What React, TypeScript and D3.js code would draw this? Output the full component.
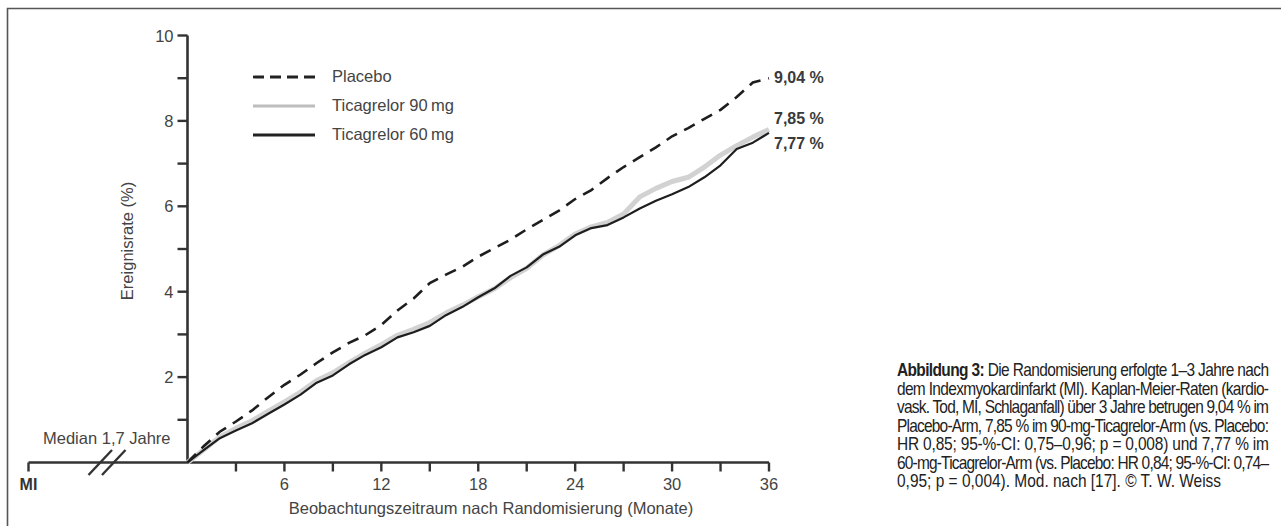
import * as d3 from 'd3';
import React, { useRef, useEffect } from 'react';

// Kaplan-Meier event rates (%), one value per month
const months = [0, 1, 2, 3, 4, 5, 6, 7, 8, 9, 10, 11, 12, 13, 14, 15, 16, 17, 18,
  19, 20, 21, 22, 23, 24, 25, 26, 27, 28, 29, 30, 31, 32, 33, 34, 35, 36];
const placebo = [0, 0.38, 0.72, 0.96, 1.22, 1.53, 1.82, 2.06, 2.33, 2.58, 2.80, 2.98, 3.22,
  3.56, 3.84, 4.20, 4.40, 4.58, 4.82, 5.02, 5.22, 5.46, 5.68, 5.90, 6.17, 6.38, 6.66,
  6.92, 7.15, 7.38, 7.64, 7.83, 8.05, 8.26, 8.56, 8.90, 9.00];
const tica90 = [0, 0.30, 0.60, 0.80, 0.98, 1.20, 1.42, 1.65, 1.92, 2.10, 2.34, 2.56, 2.76,
  2.98, 3.12, 3.28, 3.50, 3.68, 3.88, 4.07, 4.33, 4.55, 4.86, 5.08, 5.35, 5.52, 5.62,
  5.82, 6.22, 6.42, 6.58, 6.68, 6.92, 7.20, 7.42, 7.62, 7.80];
const tica60 = [0, 0.29, 0.57, 0.75, 0.92, 1.14, 1.36, 1.59, 1.87, 2.04, 2.30, 2.52, 2.70,
  2.93, 3.05, 3.20, 3.45, 3.64, 3.87, 4.08, 4.37, 4.57, 4.87, 5.05, 5.32, 5.49, 5.56,
  5.74, 5.95, 6.13, 6.28, 6.45, 6.68, 6.96, 7.34, 7.49, 7.72];

const yTicks = [0, 1, 2, 3, 4, 5, 6, 7, 8, 9, 10];
const yLabels = [2, 4, 6, 8, 10];
const xTicks = [3, 6, 9, 12, 15, 18, 21, 24, 27, 30, 33, 36];
const xLabels = [6, 12, 18, 24, 30, 36];

const seriesNames = ["Placebo", "Ticagrelor 90\u2009mg", "Ticagrelor 60\u2009mg"];
const endLabels = ["9,04 %", "7,85 %", "7,77 %"];
const endLabelValues = [9.04, 7.85, 7.77];

const captionBold = "Abbildung 3:";
const captionLines = [
  " Die Randomisierung erfolgte 1–3 Jahre nach",
  "dem Indexmyokardinfarkt (MI). Kaplan-Meier-Raten (kardio-",
  "vask. Tod, MI, Schlaganfall) über 3 Jahre betrugen 9,04 % im",
  "Placebo-Arm, 7,85 % im 90-mg-Ticagrelor-Arm (vs. Placebo:",
  "HR 0,85; 95-%-CI: 0,75–0,96; p = 0,008) und 7,77 % im",
  "60-mg-Ticagrelor-Arm (vs. Placebo: HR 0,84; 95-%-CI: 0,74–",
  "0,95; p = 0,004). Mod. nach [17]. © T. W. Weiss",
];

function KMChart(): any {
  const ref = useRef(null);
  const width = 1281;
  const height = 526;
  const font = "'Liberation Sans', Arial, sans-serif";
  const textColor = "#444";
  const axisColor = "#333";

  useEffect(() => {
    const svg = d3.select(ref.current);
    svg.selectAll("*").remove();

    const xScale = d3.scaleLinear().domain([0, 36]).range([187.5, 769]);
    const yScale = d3.scaleLinear().domain([0, 10]).range([462.5, 35.5]);
    const miX = 28.5;

    // frame (cut off at right and bottom)
    svg.append("path")
      .attr("d", "M7.5," + height + " V8.5 H" + width)
      .attr("fill", "none")
      .attr("stroke", "#555")
      .attr("stroke-width", 1.6);

    const g = svg.append("g");

    // x axis with break from MI
    g.append("line")
      .attr("x1", miX).attr("x2", xScale(36))
      .attr("y1", yScale(0)).attr("y2", yScale(0))
      .attr("stroke", axisColor).attr("stroke-width", 2.6);
    g.append("line")
      .attr("x1", miX).attr("x2", miX)
      .attr("y1", yScale(0)).attr("y2", yScale(0) + 9)
      .attr("stroke", axisColor).attr("stroke-width", 2.4);
    g.selectAll(".xtick")
      .data(xTicks)
      .enter()
      .append("line")
      .attr("x1", (d: number) => xScale(d)).attr("x2", (d: number) => xScale(d))
      .attr("y1", yScale(0)).attr("y2", yScale(0) + 9)
      .attr("stroke", axisColor).attr("stroke-width", 2.4);
    g.selectAll(".xlabel")
      .data(xLabels)
      .enter()
      .append("text")
      .attr("x", (d: number) => xScale(d))
      .attr("y", yScale(0) + 27)
      .attr("text-anchor", "middle")
      .attr("font-family", font).attr("font-size", 16.5)
      .attr("fill", textColor)
      .text((d: number) => d);
    g.append("text")
      .attr("x", miX).attr("y", yScale(0) + 27)
      .attr("text-anchor", "middle")
      .attr("font-family", font).attr("font-size", 16).attr("font-weight", "bold")
      .attr("fill", "#333")
      .text("MI");
    [0, 13.5].forEach((dx) => {
      g.append("line")
        .attr("x1", 88.5 + dx).attr("y1", 475)
        .attr("x2", 112 + dx).attr("y2", 450)
        .attr("stroke", axisColor).attr("stroke-width", 2.4);
    });
    g.append("text")
      .attr("x", 43).attr("y", 444)
      .attr("font-family", font).attr("font-size", 16.5)
      .attr("fill", textColor)
      .text("Median 1,7 Jahre");
    g.append("text")
      .attr("x", 491).attr("y", 514)
      .attr("text-anchor", "middle")
      .attr("font-family", font).attr("font-size", 16.5)
      .attr("fill", textColor)
      .text("Beobachtungszeitraum nach Randomisierung (Monate)");

    // y axis
    g.append("line")
      .attr("x1", xScale(0)).attr("x2", xScale(0))
      .attr("y1", yScale(0)).attr("y2", yScale(10))
      .attr("stroke", axisColor).attr("stroke-width", 2.6);
    g.selectAll(".ytick")
      .data(yTicks.filter((d) => d > 0))
      .enter()
      .append("line")
      .attr("x1", xScale(0) - 10).attr("x2", xScale(0))
      .attr("y1", (d: number) => yScale(d)).attr("y2", (d: number) => yScale(d))
      .attr("stroke", axisColor).attr("stroke-width", 2.4);
    g.selectAll(".ylabel")
      .data(yLabels)
      .enter()
      .append("text")
      .attr("x", xScale(0) - 14)
      .attr("y", (d: number) => yScale(d) + 6)
      .attr("text-anchor", "end")
      .attr("font-family", font).attr("font-size", 16.5)
      .attr("fill", textColor)
      .text((d: number) => d);
    g.append("text")
      .attr("transform", "translate(133," + 241 + ") rotate(-90)")
      .attr("text-anchor", "middle")
      .attr("font-family", font).attr("font-size", 16.5)
      .attr("fill", textColor)
      .text("Ereignisrate (%)");

    // curves
    const line = (vals: number[]) => d3.line<number>()
      .x((_d, i) => xScale(months[i]))
      .y((d) => yScale(d))(vals);

    g.append("path")
      .attr("d", line(tica90))
      .attr("fill", "none").attr("stroke", "#d2d2d2").attr("stroke-width", 5)
      .attr("stroke-linejoin", "round");
    g.append("path")
      .attr("d", line(tica60))
      .attr("fill", "none").attr("stroke", "#1e1e1e").attr("stroke-width", 2.2)
      .attr("stroke-linejoin", "round");
    g.append("path")
      .attr("d", line(placebo))
      .attr("fill", "none").attr("stroke", "#1e1e1e").attr("stroke-width", 2.6)
      .attr("stroke-dasharray", "12,8");

    // legend
    const legendY = [77, 106, 135];
    const legendStyles = [
      { stroke: "#222", w: 2.8, dash: "11,6" },
      { stroke: "#bdbdbd", w: 3, dash: null },
      { stroke: "#222", w: 2.8, dash: null },
    ];
    seriesNames.forEach((name, i) => {
      const l = g.append("line")
        .attr("x1", 253).attr("x2", 315)
        .attr("y1", legendY[i]).attr("y2", legendY[i])
        .attr("stroke", legendStyles[i].stroke)
        .attr("stroke-width", legendStyles[i].w);
      if (legendStyles[i].dash) l.attr("stroke-dasharray", legendStyles[i].dash);
      g.append("text")
        .attr("x", 332).attr("y", legendY[i] + 5)
        .attr("font-family", font).attr("font-size", 16.5)
        .attr("fill", textColor)
        .text(name);
    });

    // end labels
    const endY = [yScale(endLabelValues[0]) + 1, yScale(endLabelValues[1]) - 9, yScale(endLabelValues[2]) + 12];
    endLabels.forEach((lab, i) => {
      g.append("text")
        .attr("x", 774).attr("y", endY[i] + 6)
        .attr("font-family", font).attr("font-size", 16).attr("font-weight", "bold")
        .attr("fill", "#3a3a3a")
        .text(lab);
    });

    // caption: condensed look by squeezing Liberation Sans horizontally
    const capX = 897;
    const capW = 372;
    const squeeze = 0.86;
    const cap = svg.append("g")
      .attr("transform", "translate(" + capX + ",0) scale(" + squeeze + ",1)");
    captionLines.forEach((ln, i) => {
      const t = cap.append("text")
        .attr("x", 0).attr("y", 376.5 + i * 18.4)
        .attr("font-family", font).attr("font-size", 18)
        .attr("fill", "#222");
      if (i < captionLines.length - 1) {
        t.attr("textLength", capW / squeeze).attr("lengthAdjust", "spacing");
      }
      if (i === 0) {
        t.append("tspan").attr("font-weight", "bold").text(captionBold);
        t.append("tspan").text(ln);
      } else {
        t.text(ln);
      }
    });
  }, []);

  return (
    <svg
      ref={ref}
      width={width}
      height={height}
      style={{ position: "absolute", left: 0, top: 0, background: "#fff" }}
    />
  );
}

export default function App(): any {
  return <KMChart />;
}
